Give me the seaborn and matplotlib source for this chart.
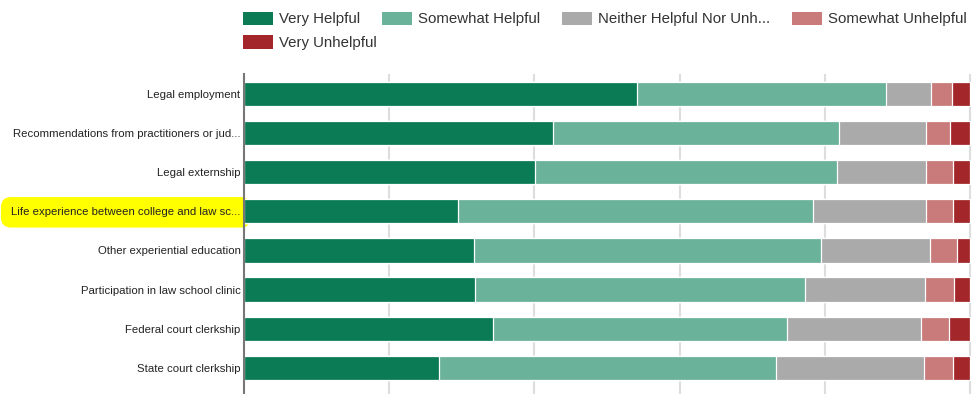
import numpy as np
import matplotlib
matplotlib.use('Agg')
import matplotlib.pyplot as plt
from matplotlib.patches import Patch
import seaborn as sns

categories = ['Legal employment',
              'Recommendations from practitioners or jud...',
              'Legal externship',
              'Life experience between college and law sc...',
              'Other experiential education',
              'Participation in law school clinic',
              'Federal court clerkship',
              'State court clerkship']

series = ['Very Helpful', 'Somewhat Helpful', 'Neither Helpful Nor Unh...',
          'Somewhat Unhelpful', 'Very Unhelpful']

very_helpful = [54.1, 42.5, 40.1, 29.5, 31.7, 31.8, 34.3, 26.8]
somewhat_helpful = [34.3, 39.5, 41.6, 48.9, 47.8, 45.5, 40.5, 46.5]
neither = [6.2, 11.9, 12.3, 15.5, 15.0, 16.5, 18.5, 20.3]
somewhat_unhelpful = [2.9, 3.3, 3.7, 3.8, 3.7, 4.0, 3.8, 4.1]
very_unhelpful = [2.5, 2.8, 2.3, 2.3, 1.8, 2.2, 2.9, 2.3]

colors = ['#0b7b56', '#6bb29b', '#aaaaaa', '#c97a7a', '#a2262a']

sns.set_style('white')
plt.rcParams['font.family'] = ['Liberation Sans', 'DejaVu Sans']

fig = plt.figure(figsize=(9.75, 3.94), dpi=100)
ax = fig.add_axes([244 / 975, 0, (971.5 - 244) / 975, 1 - 74 / 394])

values = np.array([very_helpful, somewhat_helpful, neither,
                   somewhat_unhelpful, very_unhelpful])
cum = np.cumsum(values, axis=0)

# draw the cumulative totals from longest to shortest so they stack
for i in range(len(series) - 1, -1, -1):
    sns.barplot(x=cum[i], y=categories, color=colors[i], orient='h',
                width=0.62, edgecolor='white', linewidth=0.9,
                saturation=1, zorder=3, ax=ax)

ax.set_xlim(0, 100.2)
ax.set_ylim(7.67, -0.51)
ax.set_xticks([0, 20, 40, 60, 80, 100])
ax.set_xticklabels([])
ax.xaxis.grid(True, color='#dddddd', linewidth=1.5, zorder=0)
ax.set_axisbelow(True)
ax.set_xlabel('')
ax.set_ylabel('')
ax.tick_params(axis='y', length=0, pad=2.5, labelsize=8.2, labelcolor='#222222')
ax.tick_params(axis='x', length=0)
for side in ['top', 'right', 'bottom']:
    ax.spines[side].set_visible(False)
ax.spines['left'].set_color('#777777')
ax.spines['left'].set_linewidth(1.5)
ax.spines['left'].set_zorder(4)

# yellow highlight on one label
ax.get_yticklabels()[3].set_bbox(dict(boxstyle='round,pad=0.9', fc='#ffff00', ec='none'))

handles = [Patch(facecolor=c, edgecolor='none') for c in colors]
leg_kw = dict(frameon=False, fontsize=10.8, handlelength=2.0, handleheight=1.0,
              handletextpad=0.4, columnspacing=1.45, borderpad=0, borderaxespad=0,
              labelcolor='#333333', loc='center left')
fig.legend(handles[:4], series[:4], ncol=4,
           bbox_to_anchor=(243 / 975, 1 - 19 / 394), **leg_kw)
fig.legend(handles[4:], series[4:], ncol=1,
           bbox_to_anchor=(243 / 975, 1 - 42.5 / 394), **leg_kw)

fig.savefig('out.png', dpi=100)
